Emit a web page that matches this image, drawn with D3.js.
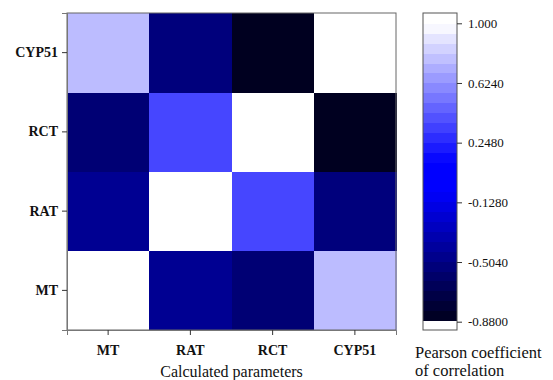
<!DOCTYPE html>
<html><head><meta charset="utf-8">
<script src="https://cdn.jsdelivr.net/npm/d3@7"></script>
<style>body{margin:0;background:#fff}svg{display:block}svg text{font-family:"Liberation Serif","Times New Roman",Times,serif}</style>
</head><body>
<svg id="c" width="553" height="380"></svg>
<script>
const categories = ["MT", "RAT", "RCT", "CYP51"];
const rowMT    = [1.00, -0.44, -0.55, 0.77];
const rowRAT   = [-0.44, 1.00, 0.37, -0.52];
const rowRCT   = [-0.55, 0.37, 1.00, -0.85];
const rowCYP51 = [0.77, -0.52, -0.85, 1.00];
const legendTickValues = [1.0, 0.624, 0.248, -0.128, -0.504, -0.88];
const legendTickLabels = ["1.000", "0.6240", "0.2480", "-0.1280", "-0.5040", "-0.8800"];
const xTitle = "Calculated parameters";
const legendTitle = ["Pearson coefficient", "of correlation"];

const rows = [rowMT, rowRAT, rowRCT, rowCYP51];
const cells = [];
rows.forEach((r, i) => r.forEach((v, j) => cells.push({row: categories[i], col: categories[j], v})));

const svg = d3.select("#c");
const serif = '"Liberation Serif", "Times New Roman", Times, serif';
const M = {l: 67, r: 396, t: 13, b: 330};

const x = d3.scaleBand().domain(categories).range([M.l, M.r]).padding(0);
const y = d3.scaleBand().domain(categories).range([M.b, M.t]).padding(0);

const vmin = -0.88, vmax = 1.0;
const color = d3.scaleLinear()
  .domain([-0.88, -0.05, 0.13, 1.0])
  .range(["#000018", "#0000ff", "#0000ff", "#ffffff"])
  .clamp(true);
const fill = v => v < vmin ? "#ffffff" : color(v);

svg.append("g").attr("shape-rendering", "crispEdges")
  .selectAll("rect").data(cells).join("rect")
  .attr("x", d => x(d.col)).attr("y", d => y(d.row))
  .attr("width", x.bandwidth() + 0.5).attr("height", y.bandwidth() + 0.5)
  .attr("fill", d => fill(d.v));

svg.append("rect").attr("x", M.l).attr("y", M.t)
  .attr("width", M.r - M.l).attr("height", M.b - M.t)
  .attr("fill", "none").attr("stroke", "#666").attr("stroke-width", 1);

const xa = svg.append("g").attr("transform", `translate(0,${M.b})`)
  .call(d3.axisBottom(x).tickSize(5).tickPadding(10));
const ya = svg.append("g").attr("transform", `translate(${M.l},0)`)
  .call(d3.axisLeft(y).tickSize(5).tickPadding(4));
[xa, ya].forEach(a => {
  a.attr("font-family", null);
  a.select(".domain").attr("stroke", "#777");
  a.selectAll(".tick line").attr("stroke", "#333");
  a.selectAll("text").style("font-family", serif).attr("font-weight", "bold")
    .attr("font-size", 14).attr("fill", "#111");
});

svg.append("text").attr("x", (M.l + M.r) / 2).attr("y", 377)
  .attr("text-anchor", "middle").style("font-family", serif).attr("font-size", 16)
  .attr("fill", "#111").text(xTitle);

// Legend
const L = {x: 423, w: 34, t: 13, b: 330};
const ly = d3.scaleLinear().domain([vmin, vmax]).range([321.7, 23.3]);
const lo = ly.invert(L.b), hi = ly.invert(L.t);
const nBands = 32;
const step = (hi - lo) / nBands;
const bands = d3.range(nBands).map(k => ({a: lo + k * step, b: lo + (k + 1) * step}));
svg.append("g").attr("shape-rendering", "crispEdges")
  .selectAll("rect").data(bands).join("rect")
  .attr("x", L.x).attr("width", L.w)
  .attr("y", d => Math.round(ly(d.b))).attr("height", d => Math.round(ly(d.a)) - Math.round(ly(d.b)) + 1)
  .attr("fill", d => fill((d.a + d.b) / 2));
svg.append("rect").attr("x", L.x).attr("y", L.t).attr("width", L.w).attr("height", L.b - L.t)
  .attr("fill", "none").attr("stroke", "#555");

const la = svg.append("g").attr("transform", `translate(${L.x + L.w},0)`)
  .call(d3.axisRight(ly).tickValues(legendTickValues)
    .tickFormat((d, i) => legendTickLabels[i]).tickSize(5).tickPadding(6));
la.attr("font-family", null);
la.select(".domain").remove();
la.selectAll(".tick line").attr("stroke", "#333");
la.selectAll("text").style("font-family", serif).attr("font-size", 13).attr("fill", "#111");

svg.append("g").selectAll("text").data(legendTitle).join("text")
  .attr("x", 415).attr("y", (d, i) => 358 + i * 18.3)
  .style("font-family", serif).attr("font-size", 16.5).attr("fill", "#111").text(d => d);
</script>
</body></html>
